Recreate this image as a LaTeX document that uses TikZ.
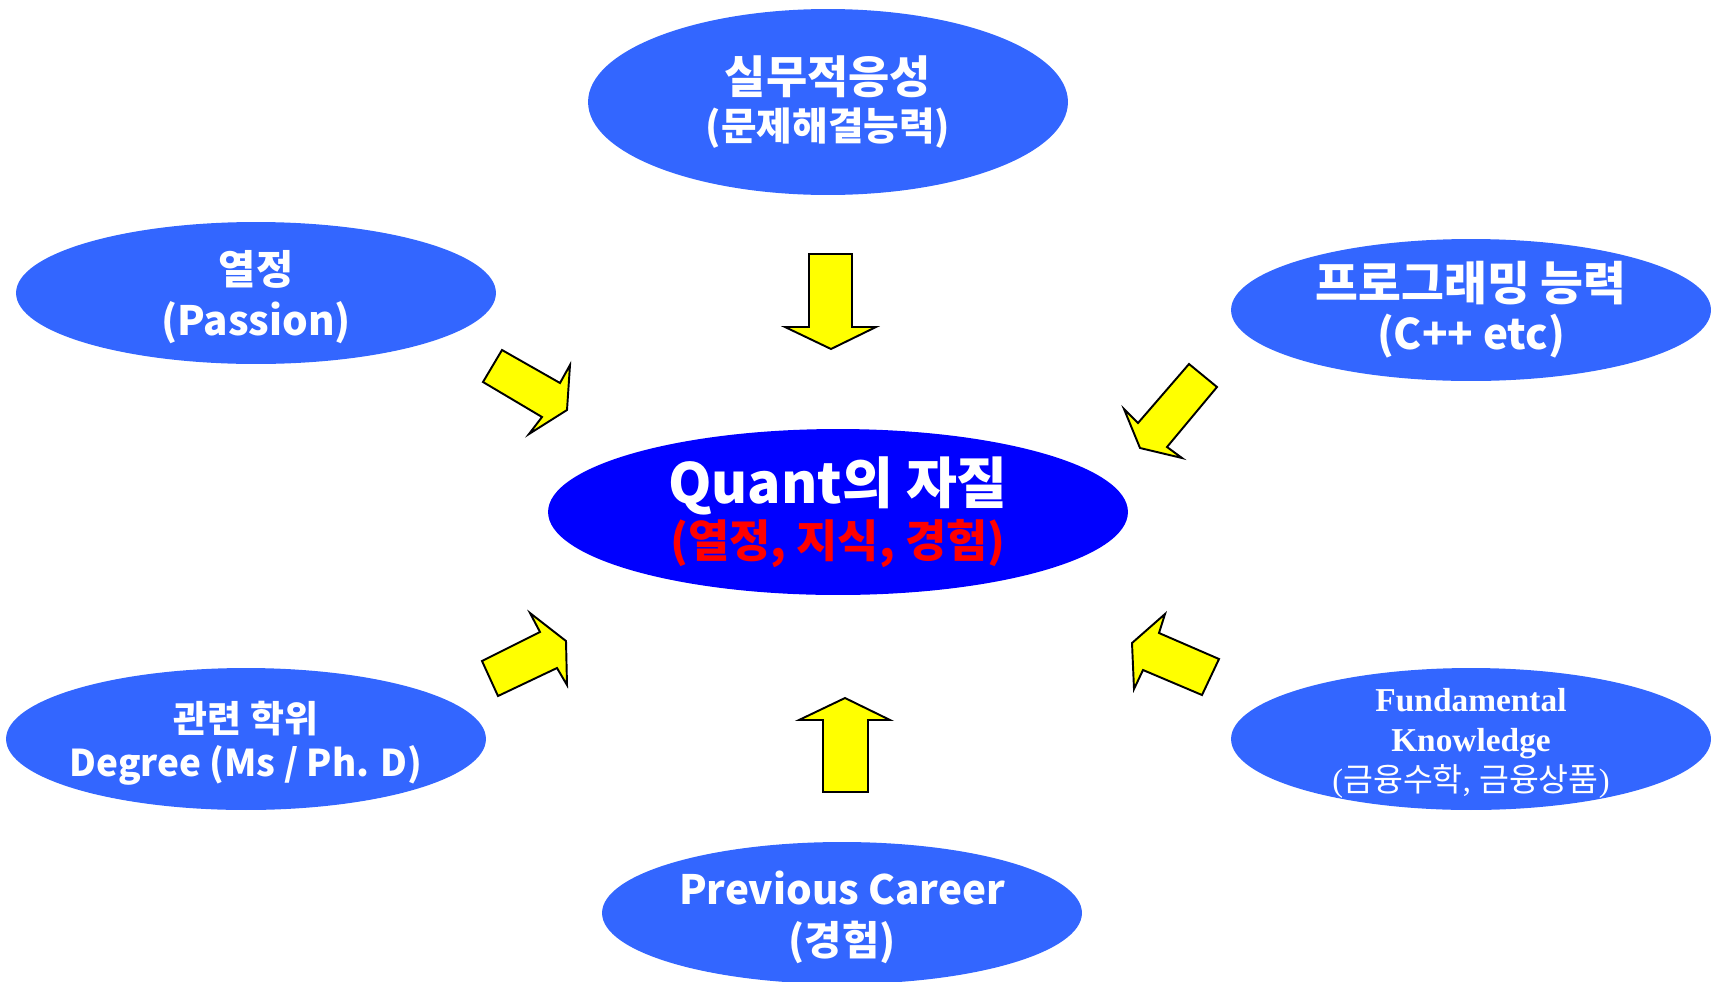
\documentclass[tikz,border=0pt]{standalone}
\usepackage{fontspec}
\usepackage{tikz}
\usetikzlibrary{shapes.geometric}
\newfontfamily\kr{Noto Sans CJK KR}
\newfontfamily\tnr{Liberation Serif}
\definecolor{oblue}{RGB}{51,102,255}
\definecolor{qblue}{RGB}{0,0,255}
\definecolor{ayellow}{RGB}{255,255,0}
\definecolor{qred}{RGB}{255,0,0}
% extra room above the first line pushes the text a little down in its oval
\newcommand{\padtop}[1]{\raisebox{0pt}[\dimexpr\height+5pt\relax]{#1}}

\begin{document}
\begin{tikzpicture}[x=0.02cm, y=-0.02cm,
        every node/.style={font=\kr\bfseries},
        oval/.style={ellipse, fill=oblue, text=white, minimum width=9.6cm, minimum height=2.84cm,
          inner xsep=-1cm, inner ysep=-0.3cm, align=center},
        blkarr/.style={draw=black, fill=ayellow, line width=1.1pt, line join=miter}]
      \useasboundingbox (0,0) rectangle (1717,981);

      \node[oval, fill=qblue, minimum width=11.6cm, minimum height=3.32cm,
        font=\kr\bfseries\fontsize{31.5}{31}\selectfont] (quant) at (838,512)
        {Quant의 자질\\
         {\fontsize{25.5}{30}\selectfont\color{qred}(열정, 지식, 경험)}};

      \node[oval, minimum height=3.72cm, font=\kr\bfseries\fontsize{25.5}{27}\selectfont] (practice) at (828,102)
        {실무적응성\\
         {\fontsize{22}{26}\selectfont (문제해결능력)}};
      \node[oval, font=\kr\bfseries\fontsize{23}{29}\selectfont] (passion) at (256,293)
        {\padtop{열정}\\(Passion)};
      \node[oval, font=\kr\bfseries\fontsize{24}{28}\selectfont] (coding) at (1471,310)
        {{\fontsize{26.5}{28}\selectfont 프로그래밍 능력}\\(C++ etc)};
      \node[oval, font=\kr\bfseries\fontsize{21}{25}\selectfont] (degree) at (246,739)
        {\padtop{관련 학위}\\Degree (Ms / Ph. D)};
      \node[oval, font=\tnr\bfseries\fontsize{19}{23}\selectfont] (basics) at (1471,739)
        {\padtop{Fundamental}\\Knowledge\\
         {\mdseries\fontsize{18.5}{23}\selectfont(\kr 금융수학\tnr, \kr 금융상품\tnr)}};
      \node[oval, font=\kr\bfseries\fontsize{23}{29}\selectfont] (career) at (842,913)
        {\padtop{Previous Career}\\(경험)};

      % block arrows towards the centre
      \draw[blkarr] (809,254) -- (852,254) -- (852,327) -- (876,327) -- (831,349) -- (785,327) -- (809,327) -- cycle;
      \draw[blkarr] (823,792) -- (868,792) -- (868,720) -- (890,720) -- (845,698) -- (799,720) -- (823,720) -- cycle;
      \draw[blkarr] (502,350) -- (560,383) -- (570,365) -- (567,410) -- (529,434) -- (542,417) -- (483,382) -- cycle;
      \draw[blkarr] (1189,364) -- (1217,387) -- (1167,447) -- (1182,458) -- (1140,448) -- (1124,409) -- (1138,423) -- cycle;
      \draw[blkarr] (530,613) -- (540,632) -- (482,661) -- (498,696) -- (557,668) -- (567,685) -- (566,641) -- cycle;
      \draw[blkarr] (1165,614) -- (1159,633) -- (1219,659) -- (1202,695) -- (1143,670) -- (1134,689) -- (1132,643) -- cycle;
    \end{tikzpicture}
\end{document}
